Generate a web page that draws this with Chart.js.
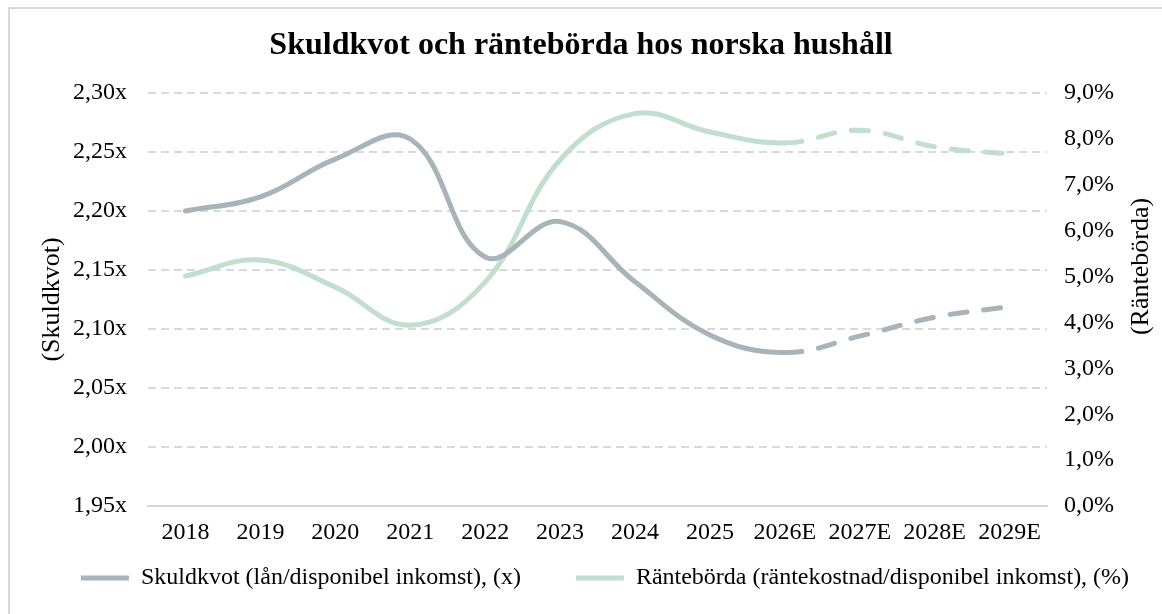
<!DOCTYPE html>
<html>
<head>
<meta charset="utf-8">
<script src="https://cdn.jsdelivr.net/npm/chart.js@4/dist/chart.umd.min.js"></script>
<style>
  html, body { margin: 0; padding: 0; background: #ffffff; }
  #wrap { position: relative; width: 1162px; height: 614px; }
</style>
</head>
<body>
<div id="wrap"><canvas id="c" width="1162" height="614"></canvas></div>
<script>
// ---- Data ----
const categories = ['2018','2019','2020','2021','2022','2023','2024','2025','2026E','2027E','2028E','2029E'];
const skuldkvot  = [2.200, 2.212, 2.244, 2.261, 2.161, 2.191, 2.140, 2.095, 2.080, 2.094, 2.110, 2.119];
const ranteborda = [5.01, 5.36, 4.77, 3.94, 4.88, 7.54, 8.55, 8.15, 7.91, 8.19, 7.83, 7.67];
const leftTicks  = { min: 1.95, max: 2.30, step: 0.05 };
const rightTicks = { min: 0, max: 9, step: 1 };
const titleText = 'Skuldkvot och räntebörda hos norska hushåll';
const seriesNames = ['Skuldkvot (lån/disponibel inkomst), (x)', 'Räntebörda (räntekostnad/disponibel inkomst), (%)'];
const axisTitles = ['(Skuldkvot)', '(Räntebörda)'];

const forecastStart = categories.findIndex(c => c.endsWith('E'));
const SERIF = "'Liberation Serif', 'Times New Roman', serif";
const GRAY = '#A7B4BA';
const GREEN = '#C1DFCC';
const GRID = '#D9D9D9';

const dashAfterForecast = ctx => ctx.p0DataIndex >= forecastStart ? [17, 17] : undefined;

const framePlugin = {
  id: 'frame',
  beforeDraw(chart) {
    const c = chart.ctx;
    c.save();
    c.fillStyle = '#ffffff';
    c.fillRect(0, 0, chart.width, chart.height);
    c.fillStyle = GRID;
    c.fillRect(8, 7, 2, chart.height);
    c.fillRect(8, 7, chart.width, 2);
    c.restore();
  }
};

const rightTitlePlugin = {
  id: 'rightTitle',
  afterDraw(chart) {
    const c = chart.ctx;
    const a = chart.chartArea;
    c.save();
    c.font = '26px ' + SERIF;
    c.fillStyle = '#000';
    c.textAlign = 'center';
    c.textBaseline = 'middle';
    c.translate(chart.width - 21, a.top + (a.bottom - a.top) * 0.42);
    c.rotate(-Math.PI / 2);
    c.fillText(axisTitles[1], 0, 0);
    c.restore();
  }
};

const legendShiftPlugin = {
  id: 'legendShift',
  afterLayout(chart) {
    if (chart.legend) { chart.legend.left += 24; chart.legend.right += 24; }
  }
};

new Chart(document.getElementById('c'), {
  type: 'line',
  data: {
    labels: categories,
    datasets: [
      {
        label: seriesNames[0],
        data: skuldkvot,
        yAxisID: 'y',
        borderColor: GRAY,
        backgroundColor: GRAY,
        borderWidth: 5,
        tension: 0.4,
        pointRadius: 0,
        borderCapStyle: 'round',
        borderJoinStyle: 'round',
        segment: { borderDash: dashAfterForecast }
      },
      {
        label: seriesNames[1],
        data: ranteborda,
        yAxisID: 'y1',
        borderColor: GREEN,
        backgroundColor: GREEN,
        borderWidth: 5,
        tension: 0.4,
        pointRadius: 0,
        borderCapStyle: 'round',
        borderJoinStyle: 'round',
        segment: { borderDash: dashAfterForecast }
      }
    ]
  },
  options: {
    responsive: false,
    animation: false,
    devicePixelRatio: 1,
    layout: { padding: { left: 0, right: 0, top: 0, bottom: 14 } },
    plugins: {
      tooltip: { enabled: false },
      title: {
        display: true,
        text: titleText,
        color: '#000',
        font: { family: SERIF, size: 32, weight: 'bold' },
        padding: { top: 27, bottom: 27.6 }
      },
      legend: {
        position: 'bottom',
        title: {
          display: true,
          text: '',
          font: { family: SERIF, size: 10 },
          padding: { top: 0, bottom: -57 }
        },
        labels: {
          color: '#000',
          font: { family: SERIF, size: 24 },
          boxWidth: 48,
          boxHeight: 5,
          padding: 55,
          generateLabels(chart) {
            return Chart.defaults.plugins.legend.labels.generateLabels(chart).map(l => ({
              ...l, lineWidth: 0, fillStyle: l.strokeStyle
            }));
          }
        }
      }
    },
    scales: {
      x: {
        offset: true,
        grid: { display: false, drawTicks: false, offset: true },
        border: { display: true, color: GRID, width: 2 },
        ticks: { color: '#000', font: { family: SERIF, size: 24 }, padding: 12, maxRotation: 0, autoSkip: false },
        afterFit(scale) { scale.height = 50; }
      },
      y: {
        position: 'left',
        min: leftTicks.min,
        max: leftTicks.max,
        grid: { color: GRID, lineWidth: 2, drawTicks: false },
        border: { display: false, dash: [8, 5] },
        ticks: {
          stepSize: leftTicks.step,
          color: '#000',
          font: { family: SERIF, size: 24 },
          padding: 21,
          callback: v => v.toFixed(2).replace('.', ',') + 'x'
        },
        title: {
          display: true,
          text: axisTitles[0],
          color: '#000',
          font: { family: SERIF, size: 26 },
          padding: { top: 36.4, bottom: 0 }
        },
        afterFit(scale) { scale.width = 148; }
      },
      y1: {
        position: 'right',
        min: rightTicks.min,
        max: rightTicks.max,
        grid: { display: false, drawTicks: false },
        border: { display: false },
        ticks: {
          stepSize: rightTicks.step,
          color: '#000',
          font: { family: SERIF, size: 24 },
          padding: 17,
          callback: v => v.toFixed(1).replace('.', ',') + '%'
        },
        afterFit(scale) { scale.width = 115; }
      }
    }
  },
  plugins: [framePlugin, rightTitlePlugin, legendShiftPlugin]
});
</script>
</body>
</html>
